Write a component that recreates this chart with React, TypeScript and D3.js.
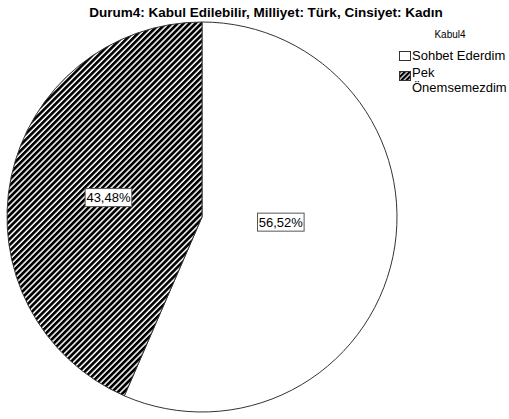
import React from "react";
import * as d3 from "d3";

const title = "Durum4: Kabul Edilebilir, Milliyet: Türk, Cinsiyet: Kadın";
const legendTitle = "Kabul4";
const categories = ["Sohbet Ederdim", "Pek Önemsemezdim"];
const legendLines = [["Sohbet Ederdim"], ["Pek", "Önemsemezdim"]];
const values = [56.52, 43.48];
const labelRadiusFactor = [0.405, 0.49];
const labelAngleShiftDeg = [-8, 0];

const W = 509;
const H = 419;
const cx = 202;
const cy = 217;
const R = 195;
const FONT = "Liberation Sans, Arial, sans-serif";

export default function App() {
  const pie = d3.pie<number>().sort(null).value((d) => d)(values);
  const arc = d3.arc<d3.PieArcDatum<number>>().innerRadius(0).outerRadius(R);
  const fills = ["#ffffff", "url(#hatch)"];
  const fmt = (v: number) => v.toFixed(2).replace(".", ",") + "%";

  return (
    <svg
      width={W}
      height={H}
      style={{ position: "absolute", left: 0, top: 0, display: "block", background: "#fff" }}
    >
      <defs>
        <pattern
          id="hatch"
          patternUnits="userSpaceOnUse"
          width={4.2}
          height={4.2}
          patternTransform="rotate(45)"
        >
          <rect x={0} y={0} width={4.2} height={4.2} fill="#ffffff" />
          <rect x={0} y={0} width={2.7} height={4.2} fill="#000000" />
        </pattern>
        <pattern
          id="hatchSmall"
          patternUnits="userSpaceOnUse"
          width={3.5}
          height={3.5}
          patternTransform="rotate(45)"
        >
          <rect x={0} y={0} width={3.5} height={3.5} fill="#ffffff" />
          <rect x={0} y={0} width={2.3} height={3.5} fill="#000000" />
        </pattern>
      </defs>
      <text
        x={266}
        y={17}
        textAnchor="middle"
        fontFamily={FONT}
        fontWeight="bold"
        fontSize={13.5}
        fill="#000"
      >
        {title}
      </text>
      <g transform={`translate(${cx},${cy})`}>
        {pie.map((p, i) => (
          <path key={i} d={arc(p) || ""} fill={fills[i]} stroke="#333" strokeWidth={1} />
        ))}
        {pie.map((p, i) => {
          const a = (p.startAngle + p.endAngle) / 2 + (labelAngleShiftDeg[i] * Math.PI) / 180;
          const r = R * labelRadiusFactor[i];
          const x = Math.sin(a) * r;
          const y = -Math.cos(a) * r;
          const label = fmt(values[i]);
          const tw = label.length * 7.1;
          return (
            <g key={"l" + i} transform={`translate(${x},${y})`}>
              <rect
                x={-tw / 2 - 2}
                y={-9}
                width={tw + 4}
                height={18}
                fill="#fff"
                stroke="#555"
                strokeWidth={1}
              />
              <text
                x={0}
                y={4.5}
                textAnchor="middle"
                fontFamily={FONT}
                fontSize={13}
                fill="#000"
              >
                {label}
              </text>
            </g>
          );
        })}
      </g>
      <text x={450} y={38} textAnchor="middle" fontFamily={FONT} fontSize={10} fill="#000">
        {legendTitle}
      </text>
      {categories.map((c, i) => {
        const y0 = 51.5 + i * 20;
        const multi = legendLines[i].length > 1;
        return (
          <g key={c}>
            <rect
              x={399.5}
              y={y0}
              width={11}
              height={9}
              fill={i === 0 ? "#fff" : "url(#hatchSmall)"}
              stroke="#333"
              strokeWidth={1}
            />
            {legendLines[i].map((line, j) => (
              <text
                key={j}
                x={412}
                y={y0 + 8.5 - (multi ? 3 : 0) + j * 14.5}
                fontFamily={FONT}
                fontSize={13}
                fill="#000"
              >
                {line}
              </text>
            ))}
          </g>
        );
      })}
    </svg>
  );
}
